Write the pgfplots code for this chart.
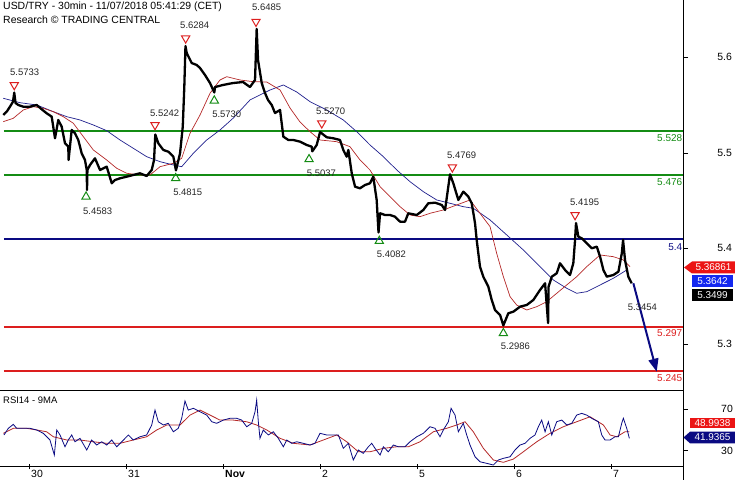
\documentclass[border=0pt]{standalone}
\usepackage{pgfplots}
\pgfplotsset{compat=1.18}
\usepackage{fontspec}
\setmainfont{Liberation Sans}
\usetikzlibrary{arrows.meta}
\definecolor{grn}{RGB}{20,140,20}
\definecolor{navyl}{RGB}{10,10,130}
\definecolor{redl}{RGB}{220,30,30}
\definecolor{mared}{RGB}{180,40,40}
\definecolor{mablue}{RGB}{30,30,140}
\definecolor{boxblue}{RGB}{20,40,240}
\definecolor{boxred}{RGB}{235,20,20}
\newcommand{\fs}[1]{\fontsize{#1}{#1}\selectfont}
\begin{document}
\begin{tikzpicture}[x=1bp,y=1bp]
\useasboundingbox (0,0) rectangle (735,480);
\begin{axis}[at={(0bp,89bp)}, anchor=south west, width=683bp, height=391bp, scale only axis,
  xmin=-0.299, xmax=6.742, ymin=5.2212, ymax=5.6826,
  axis line style={draw=none}, clip=false,
  xtick=\empty, ytick={5.2763,5.3896,5.5017,5.6150}, yticklabels={5.3,5.4,5.5,5.6},
  ytick pos=right, yticklabel pos=right, tick align=outside, major tick length=5bp,
  tick style={black, line width=0.8bp},
  yticklabel style={anchor=east, inner sep=0pt, xshift=44bp, font=\fs{10.5}},
]
% horizontal levels
\addplot[grn, line width=2bp] coordinates {(-0.258,5.528) (6.742,5.528)};
\addplot[grn, line width=2bp] coordinates {(-0.258,5.476) (6.742,5.476)};
\addplot[navyl, line width=2bp] coordinates {(-0.258,5.400) (6.742,5.400)};
\addplot[redl, line width=2bp] coordinates {(-0.258,5.297) (6.742,5.297)};
\addplot[redl, line width=2bp] coordinates {(-0.258,5.245) (6.742,5.245)};
% slow MA
\addplot[mablue, line width=0.7bp] coordinates {
(-0.265,5.5666) (-0.093,5.5614) (0.079,5.5587) (0.251,5.5508) (0.389,5.5449) (0.526,5.5410)
(0.663,5.5351) (0.801,5.5284) (0.938,5.5174) (1.075,5.5076) (1.213,5.4977) (1.351,5.4918)
(1.488,5.4879) (1.574,5.4859) (1.694,5.5017) (1.832,5.5174) (1.969,5.5292) (2.106,5.5433)
(2.278,5.5646) (2.381,5.5705) (2.485,5.5764) (2.622,5.5823) (2.760,5.5740) (2.897,5.5626)
(3.069,5.5528) (3.240,5.5410) (3.378,5.5272) (3.515,5.5115) (3.653,5.4977) (3.791,5.4820)
(3.928,5.4682) (4.065,5.4564) (4.203,5.4466) (4.340,5.4427) (4.477,5.4387) (4.580,5.4368)
(4.753,5.4230) (4.925,5.4053) (5.096,5.3876) (5.268,5.3679) (5.405,5.3522) (5.543,5.3424)
(5.646,5.3365) (5.749,5.3384) (5.887,5.3463) (6.024,5.3542) (6.162,5.3640)};
% fast MA
\addplot[mared, line width=0.7bp] coordinates {
(-0.265,5.5390) (-0.162,5.5430) (-0.059,5.5528) (0.044,5.5567) (0.147,5.5548) (0.251,5.5508)
(0.354,5.5449) (0.457,5.5371) (0.560,5.5213) (0.663,5.5056) (0.801,5.4938) (0.904,5.4840)
(1.007,5.4781) (1.144,5.4761) (1.247,5.4761) (1.351,5.4859) (1.488,5.4899) (1.574,5.4958)
(1.660,5.5253) (1.763,5.5469) (1.866,5.5725) (1.969,5.5882) (2.038,5.5921) (2.175,5.5882)
(2.312,5.5862) (2.451,5.5858) (2.588,5.5764) (2.691,5.5551) (2.794,5.5386) (2.897,5.5272)
(3.000,5.5174) (3.172,5.5154) (3.309,5.5095) (3.412,5.4938) (3.515,5.4820) (3.619,5.4623)
(3.722,5.4505) (3.825,5.4387) (3.928,5.4289) (4.031,5.4269) (4.134,5.4309) (4.271,5.4348)
(4.409,5.4407) (4.546,5.4466) (4.649,5.4309) (4.753,5.4151) (4.821,5.3837) (4.890,5.3561)
(4.959,5.3325) (5.027,5.3227) (5.131,5.3168) (5.234,5.3207) (5.337,5.3266) (5.440,5.3365)
(5.543,5.3463) (5.646,5.3561) (5.749,5.3679) (5.887,5.3817) (6.024,5.3797) (6.127,5.3758)
(6.196,5.3679)};
% price
\addplot[black, line width=2.3bp, line join=round] coordinates {
(-0.265,5.5469) (-0.230,5.5508) (-0.196,5.5567) (-0.165,5.5626) (-0.152,5.5733) (-0.139,5.5610)
(-0.110,5.5587) (-0.059,5.5567) (0.010,5.5567) (0.079,5.5587) (0.131,5.5536) (0.182,5.5489)
(0.234,5.5449) (0.268,5.5194) (0.302,5.5410) (0.337,5.5331) (0.371,5.5135) (0.405,5.5095)
(0.408,5.4938) (0.440,5.5292) (0.474,5.5253) (0.508,5.5174) (0.543,5.5017) (0.577,5.4938)
(0.595,5.4820) (0.598,5.4584) (0.602,5.4820) (0.629,5.4879) (0.680,5.4958) (0.732,5.4820)
(0.801,5.4859) (0.853,5.4663) (0.887,5.4702) (0.938,5.4722) (1.007,5.4741) (1.075,5.4761)
(1.144,5.4781) (1.213,5.4749) (1.265,5.4820) (1.289,5.4938) (1.302,5.5239) (1.333,5.5135)
(1.385,5.5056) (1.436,5.5036) (1.488,5.4977) (1.515,5.4815) (1.557,5.5017) (1.585,5.5331)
(1.601,5.5803) (1.613,5.6283) (1.626,5.6200) (1.677,5.6082) (1.729,5.6059) (1.763,5.6023)
(1.814,5.5941) (1.866,5.5846) (1.910,5.5735) (1.918,5.5799) (2.000,5.5823) (2.103,5.5846)
(2.206,5.5858) (2.278,5.5799) (2.330,5.5882) (2.347,5.6484) (2.361,5.6118) (2.399,5.5846)
(2.433,5.5728) (2.464,5.5646) (2.502,5.5587) (2.536,5.5492) (2.588,5.5528) (2.622,5.5213)
(2.673,5.5174) (2.725,5.5174) (2.794,5.5154) (2.863,5.5115) (2.914,5.5095) (2.920,5.5040)
(2.966,5.5115) (3.000,5.5268) (3.069,5.5206) (3.137,5.5194) (3.206,5.5174) (3.240,5.5056)
(3.275,5.4977) (3.292,5.5056) (3.327,5.4781) (3.361,5.4623) (3.412,5.4604) (3.464,5.4643)
(3.515,5.4663) (3.549,5.4741) (3.584,5.4466) (3.603,5.4082) (3.619,5.4309) (3.670,5.4289)
(3.722,5.4289) (3.773,5.4269) (3.825,5.4210) (3.876,5.4210) (3.910,5.4309) (3.997,5.4289)
(4.065,5.4348) (4.116,5.4427) (4.186,5.4434) (4.255,5.4407) (4.289,5.4348) (4.340,5.4769)
(4.374,5.4663) (4.426,5.4466) (4.477,5.4564) (4.529,5.4505) (4.564,5.4427) (4.598,5.4191)
(4.615,5.3994) (4.632,5.3837) (4.649,5.3679) (4.683,5.3561) (4.735,5.3443) (4.770,5.3286)
(4.804,5.3168) (4.856,5.3109) (4.890,5.2986) (4.941,5.3129) (4.993,5.3148) (5.062,5.3207)
(5.131,5.3227) (5.199,5.3286) (5.268,5.3404) (5.320,5.3483) (5.351,5.3014) (5.356,5.3443)
(5.389,5.3561) (5.440,5.3601) (5.474,5.3719) (5.526,5.3640) (5.577,5.3581) (5.611,5.3719)
(5.629,5.3994) (5.639,5.4194) (5.663,5.4033) (5.698,5.4014) (5.749,5.3955) (5.801,5.3896)
(5.853,5.3915) (5.887,5.3797) (5.921,5.3640) (5.956,5.3561) (6.024,5.3581) (6.076,5.3620)
(6.111,5.3837) (6.124,5.3994) (6.144,5.3758) (6.178,5.3561) (6.213,5.3483)};
% forecast arrow
\addplot[navyl, line width=2bp, -{Triangle[length=13bp,width=10bp]}] coordinates {(6.230,5.3483) (6.471,5.2440)};
% swing markers
\addplot[redl, only marks, mark=triangle, mark size=4.8bp, mark options={rotate=180, line width=1bp, fill=white}] coordinates {
(-0.152,5.5823) (1.299,5.5351) (1.615,5.6374) (2.340,5.6570) (3.018,5.5371) (4.364,5.4852) (5.629,5.4289)};
\addplot[grn, only marks, mark=triangle, mark size=4.8bp, mark options={line width=1bp, fill=white}] coordinates {
(0.588,5.4505) (1.512,5.4722) (1.910,5.5638) (2.887,5.4946) (3.611,5.3982) (4.890,5.2893)};
% labels
\begin{scope}[every node/.style={anchor=west, inner sep=0pt, font=\fs{9.5}, text=black!85}]
\node at (axis cs:-0.196,5.5968) {5.5733};
\node at (axis cs:0.557,5.4328) {5.4583};
\node at (axis cs:1.247,5.5489) {5.5242};
\node at (axis cs:1.485,5.4557) {5.4815};
\node at (axis cs:1.557,5.6531) {5.6284};
\node at (axis cs:1.887,5.5481) {5.5730};
\node at (axis cs:2.299,5.6740) {5.6485};
\node at (axis cs:2.959,5.5508) {5.5270};
\node at (axis cs:2.863,5.4781) {5.5037};
\node at (axis cs:3.585,5.3829) {5.4082};
\node at (axis cs:4.309,5.4997) {5.4769};
\node at (axis cs:4.863,5.2735) {5.2986};
\node at (axis cs:5.577,5.4439) {5.4195};
\node at (axis cs:6.172,5.3203) {5.3454};
\end{scope}
\begin{scope}[every node/.style={anchor=east, inner sep=0pt, font=\fs{10}}]
\node[text=grn] at (axis cs:6.735,5.5201) {5.528};
\node[text=grn] at (axis cs:6.735,5.4678) {5.476};
\node[text=navyl] at (axis cs:6.735,5.3915) {5.4};
\node[text=redl] at (axis cs:6.735,5.2893) {5.297};
\node[text=redl] at (axis cs:6.735,5.2369) {5.245};
\end{scope}
\end{axis}
% RSI panel
\begin{axis}[at={(0bp,13bp)}, anchor=south west, width=683bp, height=76bp, scale only axis,
  xmin=-0.299, xmax=6.742, ymin=14.4, ymax=87.3,
  axis line style={draw=none}, clip=false,
  xtick={0,1,2,3,4,5,6}, xticklabels={30,31,\textbf{Nov},2,5,6,7},
  xtick pos=bottom, ytick={30,70}, yticklabels={30,70},
  ytick pos=right, yticklabel pos=right,
  tick style={black, line width=0.8bp},
  major tick length=5bp,
  xtick align=center, ytick align=outside,
  yticklabel style={anchor=east, inner sep=0pt, xshift=45bp, font=\fs{10.5}},
  xticklabel style={anchor=west, inner sep=0pt, xshift=2bp, yshift=-4bp, font=\fs{10.5}},
]
\addplot[mared, line width=0.8bp] coordinates {
(-0.265,46.7) (-0.162,51.5) (-0.024,51.5) (0.079,49.9) (0.182,48.2) (0.251,43.4) (0.389,40.3)
(0.526,40.3) (0.663,38.6) (0.801,37.1) (0.938,37.1) (1.075,40.3) (1.213,43.4) (1.316,49.9)
(1.420,54.7) (1.557,54.7) (1.660,64.2) (1.763,69.0) (1.866,64.2) (1.969,59.4) (2.106,59.4)
(2.244,57.8) (2.347,54.7) (2.451,49.9) (2.588,41.9) (2.725,37.1) (2.897,35.5) (3.034,40.3)
(3.172,45.1) (3.275,38.6) (3.395,29.0) (3.515,29.0) (3.653,32.3) (3.791,33.8) (3.910,33.8)
(4.031,38.6) (4.168,48.2) (4.306,51.5) (4.409,54.7) (4.495,57.8) (4.580,48.2) (4.684,32.3)
(4.787,21.1) (4.890,18.9) (4.993,22.0) (5.096,29.0) (5.234,38.6) (5.371,46.7) (5.508,53.0)
(5.646,57.8) (5.784,62.6) (5.921,54.7) (5.990,45.1) (6.059,43.4) (6.144,48.2) (6.189,48.2)};
\addplot[navyl, line width=0.8bp] coordinates {
(-0.258,45.1) (-0.213,51.5) (-0.162,55.3) (-0.127,51.5) (-0.059,51.5) (0.010,51.5) (0.079,49.9)
(0.147,46.7) (0.216,40.3) (0.261,25.9) (0.286,49.9) (0.320,45.1) (0.371,33.8) (0.405,40.3)
(0.440,45.1) (0.474,38.6) (0.526,41.9) (0.595,30.7) (0.646,40.3) (0.698,35.5) (0.749,38.6)
(0.801,35.5) (0.853,40.3) (0.904,33.8) (0.956,38.6) (1.024,45.1) (1.075,40.3) (1.144,43.4)
(1.213,45.1) (1.265,54.7) (1.299,69.0) (1.333,57.8) (1.385,54.7) (1.436,56.3) (1.488,48.2)
(1.539,51.5) (1.574,61.1) (1.608,77.7) (1.642,69.0) (1.694,70.7) (1.763,67.4) (1.832,64.2)
(1.884,57.8) (1.935,56.3) (2.003,59.4) (2.072,61.1) (2.141,61.1) (2.193,59.4) (2.244,53.0)
(2.296,56.3) (2.330,67.4) (2.347,78.6) (2.364,57.8) (2.381,41.9) (2.415,49.9) (2.467,45.1)
(2.519,48.2) (2.570,41.9) (2.622,33.8) (2.657,40.3) (2.708,37.1) (2.760,38.6) (2.828,37.1)
(2.897,35.5) (2.948,37.1) (3.000,46.7) (3.069,45.1) (3.137,45.1) (3.189,45.1) (3.240,32.3)
(3.292,37.1) (3.343,21.1) (3.395,30.7) (3.446,27.5) (3.498,33.8) (3.533,37.1) (3.567,32.3)
(3.619,25.9) (3.653,33.8) (3.704,29.0) (3.756,35.5) (3.807,33.8) (3.876,33.8) (3.928,38.6)
(3.997,43.4) (4.065,46.7) (4.134,53.0) (4.186,51.5) (4.237,43.4) (4.271,49.9) (4.323,57.8)
(4.351,70.7) (4.392,64.2) (4.426,48.2) (4.477,56.3) (4.512,45.1) (4.546,35.5) (4.598,24.2)
(4.649,19.4) (4.719,17.9) (4.787,16.3) (4.838,21.1) (4.890,22.7) (4.959,24.2) (5.010,30.7)
(5.062,35.5) (5.113,37.1) (5.165,41.9) (5.216,45.1) (5.251,53.0) (5.285,59.4) (5.320,48.2)
(5.354,57.8) (5.389,45.1) (5.440,57.8) (5.492,59.4) (5.543,54.7) (5.595,56.3) (5.646,64.2)
(5.698,65.8) (5.749,64.2) (5.801,61.1) (5.869,57.8) (5.904,45.1) (5.938,40.3) (5.990,40.3)
(6.041,43.4) (6.076,43.4) (6.110,56.3) (6.127,61.1) (6.162,51.5) (6.189,41.9)};
\end{axis}
% frame lines
\draw[line width=1bp] (683,0) -- (683,480);
\draw[line width=1bp] (0,89) -- (683,89);
\draw[line width=1bp] (0,13) -- (683,13);
% header
\node[anchor=west, inner sep=0pt, font=\fs{10.5}] at (3,473) {USD/TRY - 30min - 11/07/2018 05:41:29 (CET)};
\node[anchor=west, inner sep=0pt, font=\fs{10.5}] at (3,460) {Research © TRADING CENTRAL};
\node[anchor=west, inner sep=0pt, font=\fs{9.5}] at (3,80) {RSI14 - 9MA};
% value boxes
\fill[boxred] (684,212.5) -- (692,218.5) -- (735,218.5) -- (735,206.5) -- (692,206.5) -- cycle;
\node[text=white, font=\fs{10}, inner sep=0pt] at (713.5,212.5) {5.36861};
\fill[boxblue] (692,193) rectangle (733,205);
\node[text=white, font=\fs{10}, inner sep=0pt] at (712.5,199) {5.3642};
\fill[black] (692,179) rectangle (733,191);
\node[text=white, font=\fs{10}, inner sep=0pt] at (712.5,185) {5.3499};
\fill[boxred] (690,51.7) rectangle (735,62.3);
\node[text=white, font=\fs{10}, inner sep=0pt] at (712.5,57) {48.9938};
\fill[navyl] (683.5,42.5) -- (690,48.3) -- (735,48.3) -- (735,36.7) -- (690,36.7) -- cycle;
\node[text=white, font=\fs{10}, inner sep=0pt] at (712.5,42.5) {41.9365};
\end{tikzpicture}
\end{document}
